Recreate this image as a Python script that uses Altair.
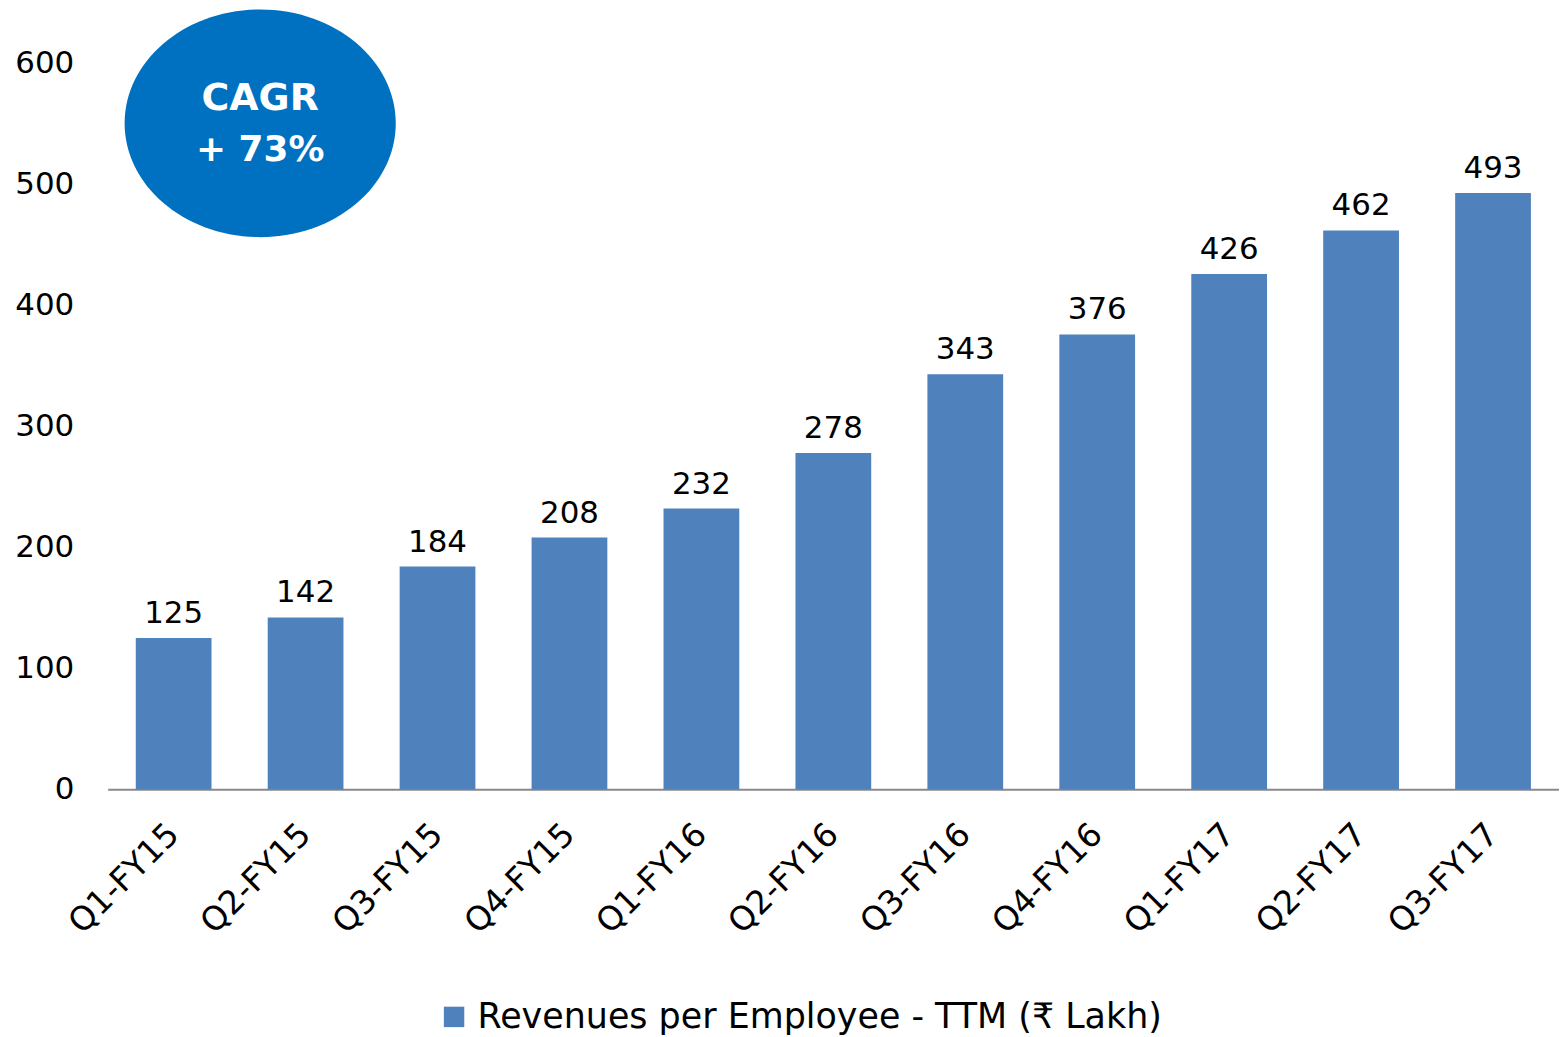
import altair as alt
import pandas as pd

quarters = ["Q1-FY15", "Q2-FY15", "Q3-FY15", "Q4-FY15", "Q1-FY16", "Q2-FY16",
            "Q3-FY16", "Q4-FY16", "Q1-FY17", "Q2-FY17", "Q3-FY17"]
revenues = [125, 142, 184, 208, 232, 278, 343, 376, 426, 462, 493]
series_name = "Revenues per Employee - TTM (₹ Lakh)"
y_ticks = [0, 100, 200, 300, 400, 500, 600]
badge_lines = ["CAGR", "+ 73%"]

FONT = "DejaVu Sans"
BAR = "#4F81BD"

df = pd.DataFrame({"quarter": quarters, "value": revenues, "series": series_name})

x = alt.X("quarter:N", sort=quarters, title=None,
          scale=alt.Scale(paddingInner=0.43, paddingOuter=0.215),
          axis=alt.Axis(labelAngle=-45, labelAlign="right", labelBaseline="middle",
                        labelFontSize=33, labelFont=FONT, labelColor="#000000",
                        labelPadding=40, ticks=False, domainColor="#898989",
                        domainWidth=2, labelLimit=400))
y = alt.Y("value:Q", title=None,
          scale=alt.Scale(domain=[0, 600], nice=False),
          axis=alt.Axis(values=y_ticks, grid=False, domain=False, ticks=False,
                        labelFontSize=31, labelFont=FONT, labelColor="#000000",
                        labelPadding=34))

bars = alt.Chart(df).mark_bar(size=76).encode(
    x=x, y=y,
    color=alt.Color("series:N", scale=alt.Scale(range=[BAR]),
                    legend=alt.Legend(title=None, orient="none", legendX=330,
                                      legendY=939, symbolType="square",
                                      symbolSize=420, labelFontSize=35,
                                      labelFont=FONT, labelColor="#000000",
                                      symbolStrokeWidth=0, labelOffset=6,
                                      labelLimit=1000)),
)

labels = alt.Chart(df).mark_text(baseline="bottom", dy=-8, fontSize=31,
                                 font=FONT, color="#000000").encode(
    x=alt.X("quarter:N", sort=quarters),
    y="value:Q",
    text="value:Q",
)

badge_df = pd.DataFrame({"k": [0]})
ellipse_path = "M-1,0 A1,0.84 0 1,0 1,0 A1,0.84 0 1,0 -1,0 Z"
badge = alt.Chart(badge_df).mark_point(
    shape=ellipse_path, filled=True, color="#0070C0", opacity=1, size=272 * 272
).encode(x=alt.value(153), y=alt.value(60))

badge_text1 = alt.Chart(pd.DataFrame({"line": [badge_lines[0]]})).mark_text(
    fontSize=38, fontWeight="bold", font=FONT, color="white", baseline="middle"
).encode(x=alt.value(153), y=alt.value(36), text="line:N")

badge_text2 = alt.Chart(pd.DataFrame({"line": [badge_lines[1]]})).mark_text(
    fontSize=36, fontWeight="bold", font=FONT, color="white", baseline="middle"
).encode(x=alt.value(153), y=alt.value(87), text="line:N")

chart = alt.layer(bars, labels, badge, badge_text1, badge_text2).properties(
    width=1456, height=728,
    background="white",
    autosize=alt.AutoSizeParams(type="none"),
    padding={"left": 100, "top": 54, "right": 0, "bottom": 247},
).configure_view(strokeWidth=0, stroke="transparent")

chart.save("out.html", embed_options={"renderer": "svg", "actions": False})
